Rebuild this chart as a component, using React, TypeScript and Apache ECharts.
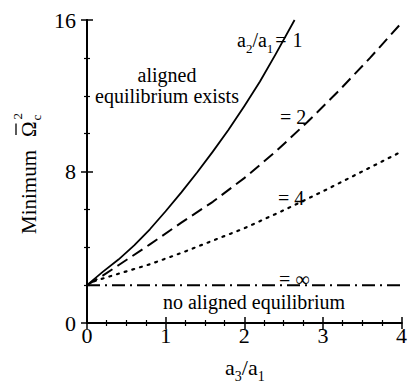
import React, { useEffect, useRef } from 'react';
import * as echarts from 'echarts';

// Minimum critical rotation rate vs. axis ratio a3/a1, for several a2/a1.
const ratio1: number[][] = [
  [0, 2], [0.2, 2.7], [0.4, 3.35], [0.6, 4.1], [0.8, 4.95], [1.0, 5.9], [1.2, 6.9],
  [1.4, 7.95], [1.6, 9.05], [1.8, 10.2], [2.0, 11.45], [2.2, 12.75], [2.4, 14.2], [2.64, 16],
];
const ratio2: number[][] = [
  [0, 2], [0.2, 2.5], [0.4, 3.05], [0.8, 4.15], [1.2, 5.3], [1.6, 6.4], [2.0, 7.65],
  [2.4, 9.05], [2.8, 10.6], [3.2, 12.25], [3.6, 14.0], [4.0, 15.85],
];
const ratio4: number[][] = [
  [0, 2], [0.1, 2.22], [0.4, 2.6], [0.8, 3.1], [1.2, 3.7], [1.6, 4.35], [2.0, 5.0],
  [2.5, 5.95], [3.0, 6.95], [3.5, 8.0], [4.0, 9.05],
];
const ratioInf: number[][] = [[0, 2], [4, 2]];

const xTicks = [0, 1, 2, 3, 4];
const yTicks = [0, 8, 16];

const FAMILY = 'Liberation Serif';

const measureCtx = document.createElement('canvas').getContext('2d') as CanvasRenderingContext2D;
function textWidth(s: string, size: number): number {
  measureCtx.font = `${size}px "${FAMILY}"`;
  return measureCtx.measureText(s).width;
}

type Frag = [string, number, number, number?]; // text, font size, baseline shift, extra x gap

function textEl(x: number, baseline: number, t: string, size: number, align: string): any {
  return {
    type: 'text',
    x,
    y: baseline - 0.34 * size,
    style: {
      text: t,
      fontFamily: FAMILY,
      fontSize: size,
      fill: '#000',
      textAlign: align,
      textVerticalAlign: 'middle',
      align,
      verticalAlign: 'middle',
    },
    z: 0,
  };
}

// Lays out a run of text pieces along a common baseline (for sub/superscripts).
function run(x0: number, baseline: number, frags: Frag[]): any[] {
  const out: any[] = [];
  let x = x0;
  for (const [t, size, dy, gap] of frags) {
    x += gap || 0;
    out.push(textEl(x, baseline + dy, t, size, 'left'));
    x += textWidth(t, size);
  }
  return out;
}

export default function App() {
  const ref = useRef<HTMLDivElement>(null);

  useEffect(() => {
    if (!ref.current) return;
    const chart = echarts.init(ref.current, null, { renderer: 'svg' });

    const axisLine = { show: true, lineStyle: { color: '#000', width: 2 } };
    const tickIn = { show: true, inside: true, length: 6, lineStyle: { color: '#000', width: 1.5 } };
    const minorIn = { show: true, splitNumber: 4, length: 3, lineStyle: { color: '#000', width: 1.2 } };

    // Rotated y-axis title: Minimum Ω̄c²
    const omegaStart = 97;
    const omegaW = textWidth('Ω', 21);
    const yTitle = {
      type: 'group',
      x: 36,
      y: 234,
      rotation: Math.PI / 2,
      children: [
        ...run(0, 0, [['Minimum', 21, 0]]),
        ...run(omegaStart, 0, [['Ω', 21, 0]]),
        ...run(omegaStart + omegaW + 1, 0, [['c', 13, 5]]),
        ...run(omegaStart + omegaW + 2, 0, [['2', 13, -14]]),
        {
          type: 'line',
          shape: { x1: omegaStart + 2, y1: -20, x2: omegaStart + omegaW - 2, y2: -20 },
          style: { stroke: '#000', lineWidth: 1.3 },
        },
      ],
    };

    const graphics: any[] = [
      yTitle,
      // x-axis title a3/a1
      ...run(225, 375, [['a', 22, 0], ['3', 14, 6], ['/a', 22, 0], ['1', 14, 6]]),
      // curve labels
      ...run(237, 47, [['a', 20, 0], ['2', 13, 6], ['/a', 20, 0], ['1', 13, 6], ['=', 20, 0, 2], ['1', 20, 0, 6]]),
      textEl(167, 82, 'aligned', 20, 'center'),
      textEl(167, 103, 'equilibrium exists', 20, 'center'),
      ...run(280, 124, [['= 2', 20, 0]]),
      ...run(278, 205, [['= 4', 20, 0]]),
      ...run(279, 286, [['= ∞', 20, 0]]),
      textEl(254, 309, 'no aligned equilibrium', 20, 'center'),
    ];

    chart.setOption({
      animation: false,
      grid: { left: 87, right: 4, top: 20, bottom: 66, containLabel: false },
      xAxis: [
        {
          type: 'value', min: xTicks[0], max: xTicks[xTicks.length - 1], interval: 1,
          axisLine, axisTick: tickIn, minorTick: minorIn, splitLine: { show: false },
          axisLabel: { margin: 1, fontSize: 22, fontFamily: FAMILY, color: '#000', verticalAlign: 'top' },
        },
        {
          type: 'value', position: 'top', min: 0, max: 4, interval: 1,
          axisLine, axisTick: tickIn, minorTick: minorIn, splitLine: { show: false },
          axisLabel: { show: false },
        },
      ],
      yAxis: [
        {
          type: 'value', min: yTicks[0], max: yTicks[yTicks.length - 1], interval: 8,
          axisLine, axisTick: tickIn, minorTick: minorIn, splitLine: { show: false },
          axisLabel: { margin: 11, fontSize: 22, fontFamily: FAMILY, color: '#000' },
        },
        {
          type: 'value', position: 'right', min: 0, max: 16, interval: 8,
          axisLine, axisTick: tickIn, minorTick: minorIn, splitLine: { show: false },
          axisLabel: { show: false },
        },
      ],
      series: [
        {
          type: 'line', data: ratio1, showSymbol: false, smooth: false, z: 3,
          lineStyle: { color: '#000', width: 1.8, type: 'solid', join: 'round' },
        },
        {
          type: 'line', data: ratio2, showSymbol: false, smooth: false, z: 3,
          lineStyle: { color: '#000', width: 2, type: [12, 6], join: 'round' },
        },
        {
          type: 'line', data: ratio4, showSymbol: false, smooth: false, z: 3,
          lineStyle: { color: '#000', width: 2.2, type: [2, 6], cap: 'round' },
        },
        {
          type: 'line', data: ratioInf, showSymbol: false, z: 3,
          lineStyle: { color: '#000', width: 2, type: [13, 5, 2, 5] },
        },
      ],
      graphic: { elements: graphics },
    });

    return () => chart.dispose();
  }, []);

  return <div ref={ref} style={{ width: 410, height: 389, position: 'absolute', left: 0, top: 0 }} />;
}
